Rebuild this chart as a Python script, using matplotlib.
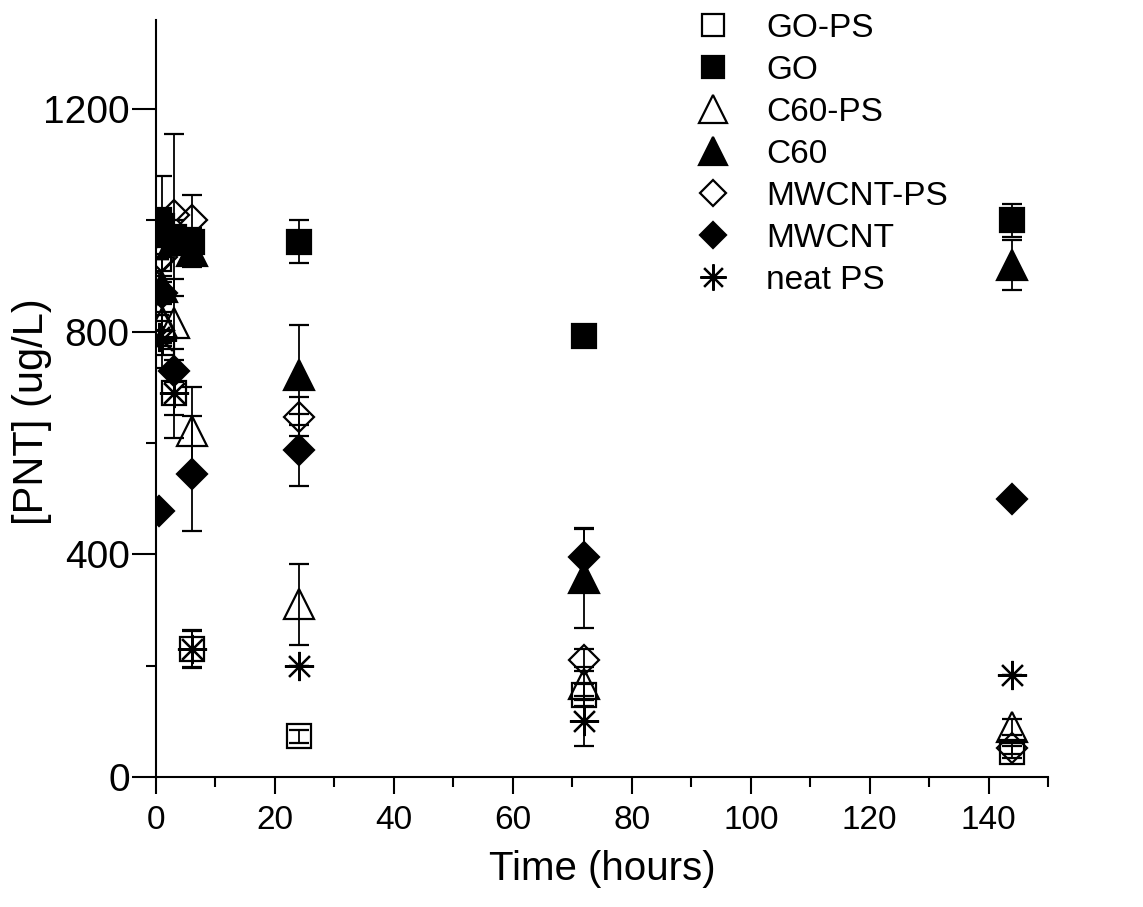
import numpy as np
import matplotlib.pyplot as plt
from matplotlib.ticker import MultipleLocator

# sampling times (hours)
time = [0.5, 1, 3, 6, 24, 72, 144]

# [PNT] in ug/L
go_ps = [930, 780, 690, 230, 73, 147, 45]
go_ps_err = [0, 0, 40, 33, 12, 20, 10]

go = [1000, 990, 970, 962, 962, 793, 1000]
go_err = [0, 90, 30, 25, 38, 0, 30]

c60_ps = [830, 815, 815, 622, 310, 168, 90]
c60_ps_err = [0, 40, 80, 78, 72, 30, 15]

c60 = [980, 880, 965, 945, 722, 358, 920]
c60_err = [0, 60, 0, 28, 90, 90, 45]

mwcnt_ps = [930, 935, 1010, 1000, 647, 210, 52]
mwcnt_ps_err = [0, 0, 145, 45, 35, 20, 10]

mwcnt = [477, 870, 730, 545, 588, 396, 500]
mwcnt_err = [0, 20, 20, 103, 65, 50, 0]

neat_ps = [790, 785, 689, 230, 199, 100, 183]
neat_ps_err = [0, 50, 80, 35, 0, 45, 0]

series = [
    ("GO-PS", go_ps, go_ps_err, "s", "none", 17),
    ("GO", go, go_err, "s", "black", 17),
    ("C60-PS", c60_ps, c60_ps_err, "^", "none", 22),
    ("C60", c60, c60_err, "^", "black", 22),
    ("MWCNT-PS", mwcnt_ps, mwcnt_ps_err, "D", "none", 15),
    ("MWCNT", mwcnt, mwcnt_err, "D", "black", 15),
    ("neat PS", neat_ps, neat_ps_err, (8, 2, 0), "none", 21),
]

plt.rcParams['font.family'] = ['Liberation Sans', 'DejaVu Sans']

fig = plt.figure(figsize=(11.43, 9.07), dpi=100)
ax = fig.add_axes([0.1365, 0.1433, 0.7805, 0.8347])

handles = []
names = []
for name, vals, err, mk, fc, ms in series:
    c = ax.errorbar(time, vals, yerr=err, marker=mk, linestyle='none', ms=ms,
                    mfc=fc, mec="black", mew=1.6, ecolor="black",
                    elinewidth=1.3, capsize=7, capthick=1.3)
    handles.append(c[0])
    names.append(name)

ax.set_xlim(0, 150)
ax.set_ylim(0, 1360)
ax.xaxis.set_major_locator(MultipleLocator(20))
ax.xaxis.set_minor_locator(MultipleLocator(10))
ax.yaxis.set_major_locator(MultipleLocator(400))
ax.yaxis.set_minor_locator(MultipleLocator(200))

ax.spines['top'].set_visible(False)
ax.spines['right'].set_visible(False)
for s in ['left', 'bottom']:
    ax.spines[s].set_linewidth(1.5)

ax.tick_params(axis='x', which='major', direction='out', length=12, width=1.5,
               labelsize=24, pad=8)
ax.tick_params(axis='x', which='minor', direction='out', length=7, width=1.5)
ax.tick_params(axis='y', which='major', direction='out', length=17, width=1.5,
               labelsize=28, pad=2)
ax.tick_params(axis='y', which='minor', direction='out', length=7, width=1.5)

ax.set_xlabel("Time (hours)", fontsize=29, labelpad=10)
ax.set_ylabel("[PNT] (ug/L)", fontsize=30)
ax.yaxis.set_label_coords(-0.117, 0.482)

ax.legend(handles, names, loc='upper left', bbox_to_anchor=(0.5865, 1.027),
          frameon=False, fontsize=24, handlelength=1.2,
          handletextpad=1.0, labelspacing=0.33, numpoints=1,
          borderaxespad=0, markerscale=0.9)

fig.savefig("out.png", dpi=100)
